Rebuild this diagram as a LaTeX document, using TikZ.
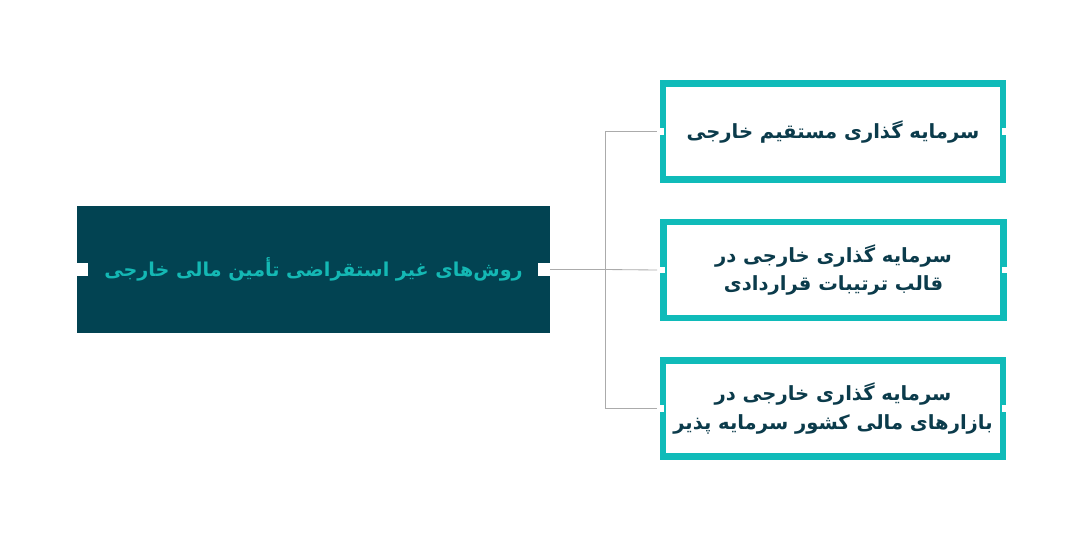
\documentclass[tikz,border=0pt]{standalone}
\usepackage{fontspec}
\newfontfamily\arabicfont[Script=Arabic]{DejaVu Sans}
\TeXXeTstate=1
\definecolor{darkteal}{HTML}{024352}
\definecolor{brightteal}{HTML}{10BBB9}
\definecolor{titletext}{HTML}{14B8B4}
\definecolor{boxtext}{HTML}{0B3B4B}
\definecolor{linegray}{HTML}{ABABAB}

\begin{document}
\begin{tikzpicture}[x=0.025cm, y=-0.025cm,
		mainbox/.style={fill=darkteal, text=titletext, minimum width=11.825cm, minimum height=3.175cm, inner sep=0pt, font=\arabicfont\bfseries\fontsize{13.6}{16}\selectfont},
		subbox/.style={draw=brightteal, line width=0.1625cm, fill=white, text=boxtext, minimum width=8.49cm, minimum height=2.41cm, inner sep=0pt, align=center, font=\arabicfont\bfseries\fontsize{13.9}{20.5}\selectfont},
		gap/.style={fill=white},
		conn/.style={draw=linegray, line width=0.6pt}]
		\useasboundingbox (0, 0) rectangle (1083, 541);
		\node[mainbox] (title) at (313.5, 269.5) {\beginR روش‌های غیر استقراضی تأمین مالی خارجی\endR};
		\node[subbox] (b1) at (833, 131.5) {\beginR سرمایه گذاری مستقیم خارجی\endR};
		\node[subbox] (b2) at (833.5, 270) {\beginR سرمایه گذاری خارجی در\endR\\\beginR قالب ترتیبات قراردادی\endR};
		\node[subbox] (b3) at (833, 408.5) {\beginR سرمایه گذاری خارجی در\endR\\\beginR بازارهای  مالی کشور سرمایه پذیر\endR};
		% notches on the title box
		\fill[gap] ([yshift=0.16cm]title.west) rectangle ([xshift=0.275cm, yshift=-0.16cm]title.west);
		\fill[gap] ([xshift=-0.3cm, yshift=0.16cm]title.east) rectangle ([yshift=-0.16cm]title.east);
		% gaps in the borders
		\fill[gap] ([xshift=-0.11cm, yshift=0.085cm]b1.west) rectangle ([xshift=0.11cm, yshift=-0.085cm]b1.west);
		\fill[gap] ([xshift=-0.11cm, yshift=0.085cm]b1.east) rectangle ([xshift=0.11cm, yshift=-0.085cm]b1.east);
		\fill[gap] ([xshift=-0.11cm, yshift=0.085cm]b2.west) rectangle ([xshift=0.11cm, yshift=-0.085cm]b2.west);
		\fill[gap] ([xshift=-0.11cm, yshift=0.085cm]b2.east) rectangle ([xshift=0.11cm, yshift=-0.085cm]b2.east);
		\fill[gap] ([xshift=-0.11cm, yshift=0.085cm]b3.west) rectangle ([xshift=0.11cm, yshift=-0.085cm]b3.west);
		\fill[gap] ([xshift=-0.11cm, yshift=0.085cm]b3.east) rectangle ([xshift=0.11cm, yshift=-0.085cm]b3.east);
		% connectors
		\coordinate (hub) at (605, 269.5);
		\draw[conn] (title.east) -- (hub);
		\draw[conn] ([xshift=-0.08cm]b1.west) -| (hub) |- ([xshift=-0.08cm]b3.west);
		\draw[conn] (hub) -- ([xshift=-0.08cm]b2.west);
	\end{tikzpicture}
\end{document}
